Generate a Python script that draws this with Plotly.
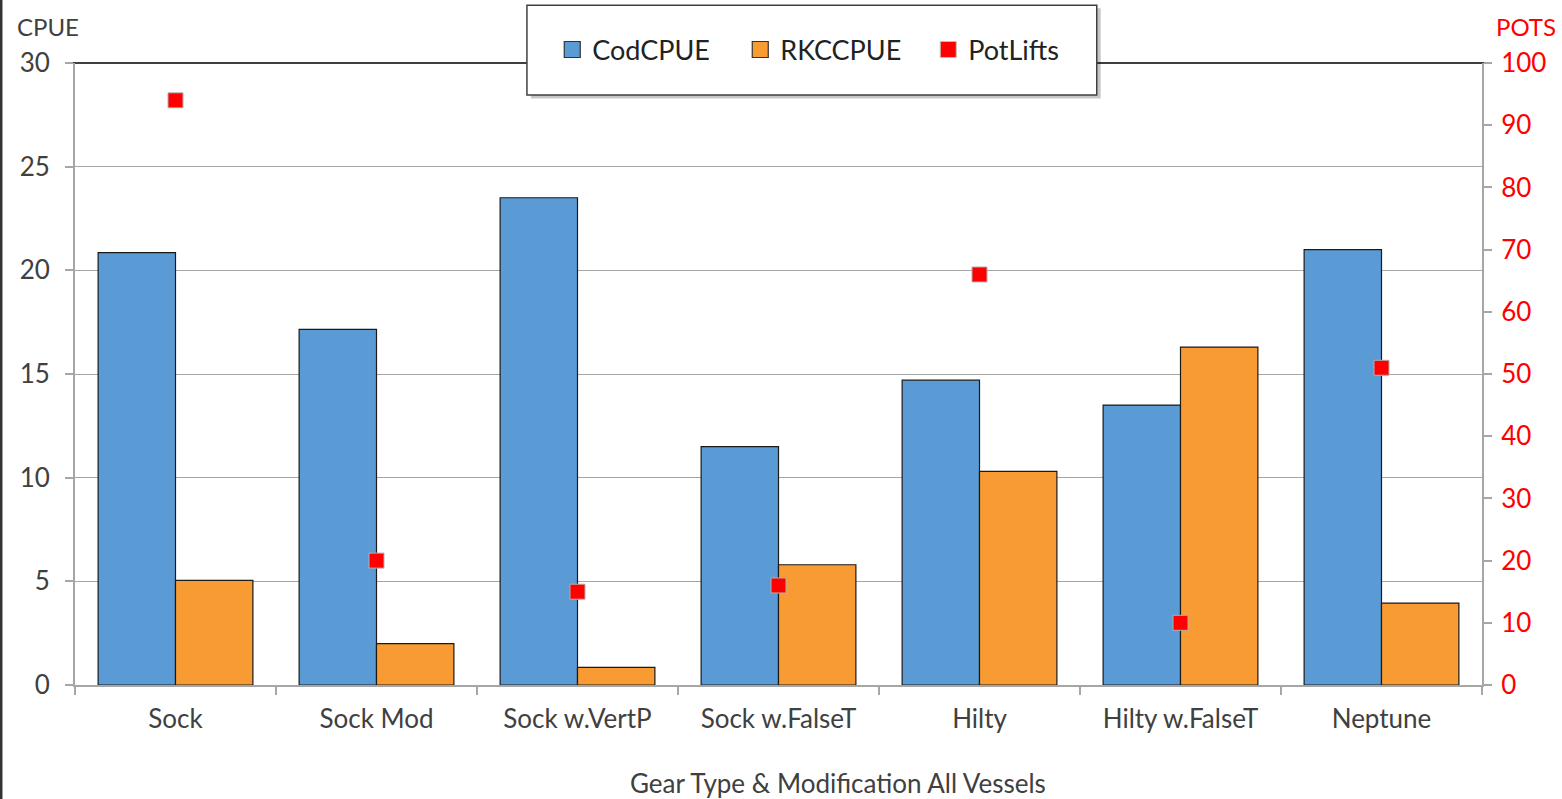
import plotly.graph_objects as go

categories = ["Sock", "Sock Mod", "Sock w.VertP", "Sock w.FalseT", "Hilty", "Hilty w.FalseT", "Neptune"]
cod_cpue = [20.85, 17.15, 23.5, 11.5, 14.7, 13.5, 21.0]
rkc_cpue = [5.05, 2.0, 0.85, 5.8, 10.3, 16.3, 3.95]
pot_lifts = [94, 20, 15, 16, 66, 10, 51]

FONT = "Lato"
TXT = "#404040"
FS = 26
BLUE = "#5B9BD5"
ORANGE = "#F99B33"

fig = go.Figure()
fig.add_trace(go.Bar(x=categories, y=cod_cpue, name="CodCPUE", showlegend=False, legendgroup="cod",
                     marker=dict(color=BLUE, line=dict(color="#1a1a1a", width=1.2))))
fig.add_trace(go.Bar(x=categories, y=rkc_cpue, name="RKCCPUE", showlegend=False, legendgroup="rkc",
                     marker=dict(color=ORANGE, line=dict(color="#1a1a1a", width=1.2))))
fig.add_trace(go.Scatter(x=categories, y=pot_lifts, name="PotLifts", mode="markers", yaxis="y2",
                         showlegend=False, legendgroup="pots",
                         marker=dict(symbol="square", size=15, color="#FF0000",
                                     line=dict(color="#b0b0b0", width=1))))
# legend entries (larger square swatches like the original)
fig.add_trace(go.Scatter(x=[None], y=[None], name="CodCPUE", mode="markers", legendgroup="cod",
                         marker=dict(symbol="square", size=16, color=BLUE, line=dict(color="#333333", width=1.2))))
fig.add_trace(go.Scatter(x=[None], y=[None], name="RKCCPUE", mode="markers", legendgroup="rkc",
                         marker=dict(symbol="square", size=16, color=ORANGE, line=dict(color="#333333", width=1.2))))
fig.add_trace(go.Scatter(x=[None], y=[None], name="PotLifts", mode="markers", legendgroup="pots",
                         marker=dict(symbol="square", size=16, color="#FF0000", line=dict(color="#c0c0c0", width=1))))

fig.update_layout(
    width=1562, height=799,
    margin=dict(l=75, r=80, t=63, b=114, autoexpand=False),
    paper_bgcolor="white", plot_bgcolor="white",
    font=dict(family=FONT, size=FS, color=TXT),
    barmode="group", bargap=0.23, bargroupgap=0,
    showlegend=True,
    legend=dict(orientation="h", x=0.3212 + 0.018, xanchor="left", y=1.021, yanchor="middle",
                bgcolor="rgba(0,0,0,0)", borderwidth=0,
                font=dict(family=FONT, size=27, color="#222222"),
                itemwidth=30, entrywidth=143, entrywidthmode="pixels"),
    xaxis=dict(
        automargin=False,
        showline=True, linecolor="#a6a6a6", linewidth=2,
        ticks="outside", tickson="boundaries", ticklen=8, tickcolor="#a6a6a6", tickwidth=2,
        tickfont=dict(family=FONT, size=FS, color=TXT), ticklabelstandoff=10,
    ),
    yaxis=dict(
        automargin=False,
        range=[0, 30], tickvals=[0, 5, 10, 15, 20, 25, 30], showgrid=True,
        gridcolor="#a6a6a6", gridwidth=1,
        showline=True, linecolor="#a6a6a6", linewidth=2,
        ticks="outside", ticklen=8, tickcolor="#a6a6a6", tickwidth=2,
        tickfont=dict(family=FONT, size=FS, color=TXT), zeroline=False, ticklabelstandoff=10,
    ),
    yaxis2=dict(
        automargin=False,
        range=[0, 100], tickvals=list(range(0, 101, 10)), overlaying="y", side="right",
        showgrid=False, showline=True, linecolor="#a6a6a6", linewidth=2,
        ticks="outside", ticklen=8, tickcolor="#a6a6a6", tickwidth=2,
        tickfont=dict(family=FONT, size=FS, color="#FF0000"), zeroline=False, ticklabelstandoff=4,
    ),
    shapes=[
        dict(type="line", xref="paper", yref="paper", x0=-0.006, x1=1.006, y0=1, y1=1,
             line=dict(color="#404040", width=2), layer="between"),
        dict(type="rect", xref="paper", yref="paper", x0=0.3240, x1=0.7290, y0=0.943, y1=1.088,
             line=dict(width=0), fillcolor="rgba(0,0,0,0.22)", layer="between"),
        dict(type="rect", xref="paper", yref="paper", x0=0.3212, x1=0.7262, y0=0.9486, y1=1.093,
             line=dict(color="#404040", width=1.5), fillcolor="white", layer="between"),
        dict(type="line", xref="paper", yref="paper", x0=-0.0526, x1=-0.0526, y0=-0.2, y1=1.11,
             line=dict(color="#333333", width=3), layer="between"),
    ],
    annotations=[
        dict(text="CPUE", xref="paper", yref="paper", x=-0.0425, y=1.058, xanchor="left", yanchor="middle",
             showarrow=False, font=dict(family=FONT, size=24, color=TXT)),
        dict(text="POTS", xref="paper", yref="paper", x=1.0085, y=1.058, xanchor="left", yanchor="middle",
             showarrow=False, font=dict(family=FONT, size=24, color="#FF0000")),
        dict(text="Gear Type & Modification All Vessels", xref="paper", yref="paper", x=0.542, y=-0.157,
             xanchor="center", yanchor="middle", showarrow=False,
             font=dict(family=FONT, size=FS, color=TXT)),
    ],
)

fig.write_html("out.html", config={"displayModeBar": False},
               post_script="document.body.style.margin='0';document.body.style.overflow='hidden';")
